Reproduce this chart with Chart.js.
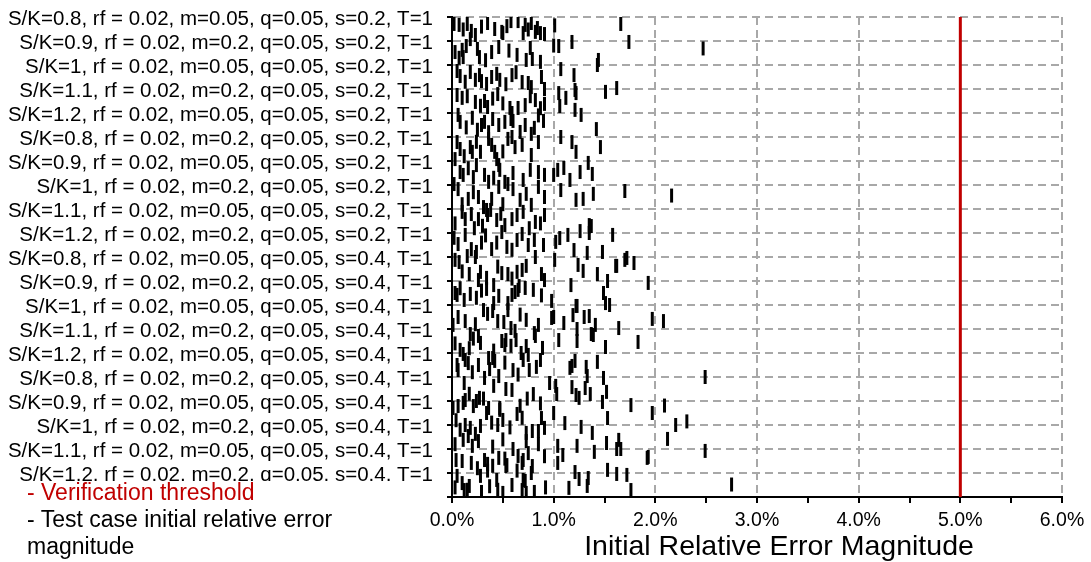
<!DOCTYPE html>
<html lang="en">
<head>
<meta charset="UTF-8">
<title>Initial Relative Error Magnitude</title>
<script src="https://cdn.jsdelivr.net/npm/chart.js"></script>
<style>
  body { margin: 0; background: #fff; font-family: "Liberation Sans", Arial, sans-serif; }
  #wrap { position: relative; width: 1091px; height: 562px; }
  #legendBox { position: absolute; left: 0; top: 481px; width: 436px; height: 29px; background: #fff; }
  #legend { position: absolute; left: 27px; top: 479px; font-size: 23px; line-height: 27px; color: #000; }
  #legend .red { color: #c00000; }
  #xTitle { position: absolute; left: 479px; top: 529px; width: 600px; text-align: center;
            font-size: 28.5px; line-height: 32px; color: #000; white-space: nowrap; }
</style>
</head>
<body>
<div id="wrap">
  <canvas id="chart" width="1091" height="562"></canvas>
  <div id="legendBox"></div>
  <div id="legend">
    <div class="red">- Verification threshold</div>
    <div>- Test case initial relative error<br>magnitude</div>
  </div>
  <div id="xTitle">Initial Relative Error Magnitude</div>
</div>
<script>
  // test case labels, top to bottom
  const caseLabels = [
    'S/K=0.8, rf = 0.02, m=0.05, q=0.05, s=0.2, T=1',
    'S/K=0.9, rf = 0.02, m=0.2, q=0.05, s=0.2, T=1',
    'S/K=1, rf = 0.02, m=0.05, q=0.05, s=0.2, T=1',
    'S/K=1.1, rf = 0.02, m=0.2, q=0.05, s=0.2, T=1',
    'S/K=1.2, rf = 0.02, m=0.05, q=0.05, s=0.2, T=1',
    'S/K=0.8, rf = 0.02, m=0.2, q=0.05, s=0.2, T=1',
    'S/K=0.9, rf = 0.02, m=0.05, q=0.05, s=0.2, T=1',
    'S/K=1, rf = 0.02, m=0.2, q=0.05, s=0.2, T=1',
    'S/K=1.1, rf = 0.02, m=0.05, q=0.05, s=0.2, T=1',
    'S/K=1.2, rf = 0.02, m=0.2, q=0.05, s=0.2, T=1',
    'S/K=0.8, rf = 0.02, m=0.05, q=0.05, s=0.4, T=1',
    'S/K=0.9, rf = 0.02, m=0.2, q=0.05, s=0.4, T=1',
    'S/K=1, rf = 0.02, m=0.05, q=0.05, s=0.4, T=1',
    'S/K=1.1, rf = 0.02, m=0.2, q=0.05, s=0.4, T=1',
    'S/K=1.2, rf = 0.02, m=0.05, q=0.05, s=0.4, T=1',
    'S/K=0.8, rf = 0.02, m=0.2, q=0.05, s=0.4, T=1',
    'S/K=0.9, rf = 0.02, m=0.05, q=0.05, s=0.4, T=1',
    'S/K=1, rf = 0.02, m=0.2, q=0.05, s=0.4, T=1',
    'S/K=1.1, rf = 0.02, m=0.05, q=0.05, s=0.4, T=1',
    'S/K=1.2, rf = 0.02, m=0.2, q=0.05, s=0.4, T=1'
  ];

  const thresholdPct = 5; // verification threshold, %

  // initial relative error (%) of each sample
  const errorPct = [
    0.02,0.07,0.11,0.15,0.23,0.35,0.49,0.50,0.58,0.65,0.70,0.72,0.75,0.78,0.82,0.84,0.87,0.91,
    0.03,0.10,0.11,0.14,0.18,0.25,0.27,0.39,0.46,0.64,0.73,0.77,0.79,0.87,
    0.05,0.08,0.18,0.23,0.27,0.29,0.34,0.39,0.44,0.47,0.59,0.69,0.75,0.78,0.88,0.91,
    0.05,0.10,0.23,0.32,0.35,0.45,0.57,0.59,0.65,0.72,0.82,0.91,
    0.06,0.08,0.29,0.32,0.40,0.46,0.52,0.58,0.60,0.67,0.78,0.81,0.90,
    0.05,0.08,0.18,0.20,0.28,0.36,0.39,0.42,0.44,0.55,0.59,0.62,0.69,0.78,0.85,
    0.03,0.08,0.11,0.21,0.24,0.32,0.36,0.46,0.47,0.52,0.70,0.77,0.85,0.91,
    0.02,0.06,0.16,0.26,0.31,0.34,0.39,0.46,0.55,0.60,0.67,0.73,0.78,0.85,0.91,
    0.10,0.13,0.19,0.26,0.35,0.38,0.44,0.52,0.59,0.64,0.70,0.82,0.91,
    0.06,0.13,0.19,0.24,0.39,0.49,0.54,0.64,0.69,0.81,0.90,
    0.03,0.07,0.15,0.17,0.23,0.26,0.28,0.34,0.41,0.49,0.55,0.64,0.69,0.73,0.82,0.88,0.91,
    0.03,0.05,0.12,0.18,0.34,0.41,0.46,0.55,0.59,0.62,0.65,0.66,0.72,0.80,0.98,
    0.01,0.13,0.18,0.31,0.35,0.40,0.45,0.51,0.55,0.58,0.62,0.73,0.81,0.85,0.98,
    0.08,0.11,0.26,0.28,0.36,0.49,0.52,0.53,0.63,0.73,0.75,0.82,0.89,
    0.05,0.06,0.13,0.16,0.12,0.32,0.37,0.40,0.42,0.46,0.60,0.70,0.76,0.83,0.87,
    0.01,0.06,0.11,0.13,0.21,0.24,0.27,0.36,0.41,0.47,0.53,0.59,0.80,0.96,
    0.13,0.18,0.23,0.28,0.34,0.45,0.47,0.50,0.64,0.73,0.79,0.85,0.88,0.91,
    0.11,0.16,0.20,0.26,0.32,0.35,0.46,0.54,0.65,0.70,0.73,0.75,0.79,
    0.04,0.05,0.19,0.28,0.44,0.53,0.69,0.72,0.78,
    0.10,0.12,0.17,0.29,0.50,0.69,0.73,0.81,0.70,
    // more of the dense cluster below 1%
    0.19,0.29,0.42,0.54,
    0.07,0.33,0.56,
    0.13,0.53,0.63,
    0.15,0.28,0.40,0.50,0.77,0.87,
    0.14,0.20,0.25,0.36,0.72,0.85,
    0.12,0.24,0.50,
    0.16,0.41,0.60,
    0.10,0.21,0.50,
    0.03,0.22,0.30,0.48,0.76,0.87,
    0.02,0.29,0.33,0.44,0.59,0.75,
    0.10,0.45,0.59,
    0.08,0.24,0.29,0.88,
    0.06,0.23,0.67,
    0.03,0.17,0.21,0.41,0.58,0.68,
    0.20,0.26,0.52,0.65,
    0.17,0.31,0.67,0.74,0.87,
    0.04,0.08,0.39,0.57,0.69,
    0.03,0.40,0.50,0.60,0.85,0.91,
    0.10,0.25,0.35,0.40,0.52,0.64,
    0.03,0.15,0.37,0.45,0.59,0.92,
    // 1% - 2%, upper half
    1.01,1.66,1.00,1.05,1.18,1.74,1.07,1.20,1.44,1.43,1.05,1.12,1.21,1.22,1.51,1.62,
    1.06,1.21,1.27,1.42,1.07,1.18,1.22,1.46,1.04,1.00,1.10,1.16,1.26,1.34,1.38,
    1.07,1.22,1.29,1.39,1.70,1.35,1.37,1.35,1.26,1.14,1.06,1.02,1.58,1.20,1.33,1.48,
    // 1% - 2%, lower half
    1.01,1.70,1.72,1.79,1.61,1.62,1.24,1.29,1.43,1.53,1.17,1.93,1.49,1.51,1.55,
    1.23,1.22,1.19,1.30,1.35,1.00,1.10,1.41,1.37,1.39,1.64,1.97,1.23,1.23,1.05,
    1.51,1.83,1.43,1.21,1.18,1.16,1.32,1.33,1.49,1.02,1.03,1.18,1.22,1.25,1.31,
    1.36,1.52,1.48,1.76,1.00,1.53,1.97,1.11,1.27,1.38,1.52,1.04,1.09,1.23,1.40,
    1.62,1.64,1.66,1.92,1.93,1.04,1.21,1.25,1.53,1.62,1.72,1.34,1.15,1.33,1.76,
    // above 2%
    2.47,2.16,2.08,2.49,2.09,2.20,2.31,2.12,2.49,2.75
  ];

  // vertical position of each sample (0 = bottom axis, 20 = top)
  const errorPos = [
    19.71,19.67,19.48,19.71,19.25,19.75,19.38,19.33,19.83,19.83,19.33,19.67,19.48,19.75,19.38,19.54,19.33,19.29,
    18.54,18.63,18.33,18.79,19.08,18.67,18.33,18.54,18.75,18.42,18.21,18.71,18.25,18.13,
    17.75,17.54,17.71,17.38,17.58,17.33,17.21,17.5,17.63,17.38,17.58,17.29,17.25,17.08,17.5,17.0,
    16.75,16.63,16.46,16.5,16.25,16.79,16.21,16.0,16.21,16.33,16.54,16.38,
    15.92,15.63,15.5,15.63,15.75,15.5,15.63,15.75,15.67,15.21,15.13,15.38,15.67,
    14.79,14.5,14.58,14.38,14.38,14.92,14.67,14.38,14.08,14.92,15.0,14.58,14.67,14.25,14.79,
    14.08,13.54,13.42,13.33,13.83,13.42,13.13,13.83,13.63,13.13,13.21,13.63,13.54,13.42,
    13.04,12.83,12.42,12.5,12.08,11.96,12.42,12.92,13.04,12.83,12.38,12.63,12.17,12.92,12.5,
    11.88,11.58,11.79,11.58,11.75,11.96,11.54,11.33,11.58,11.75,11.88,11.46,11.75,
    10.54,10.92,10.33,10.21,10.33,11.04,10.42,10.71,10.96,10.71,10.5,
    9.88,9.79,10.04,9.29,10.0,9.04,9.38,9.13,8.83,9.33,9.29,9.38,9.46,9.63,10.0,9.29,9.04,
    8.5,8.42,8.21,8.46,8.67,8.08,8.38,8.08,8.42,8.54,8.63,8.79,8.71,8.63,8.17,
    7.17,7.33,6.79,7.79,7.63,7.75,7.33,7.29,7.79,7.04,6.92,7.38,6.83,7.17,7.46,
    6.13,5.96,6.71,6.42,5.79,6.5,6.33,6.54,6.54,6.29,5.92,6.71,6.21,
    5.5,5.29,5.71,5.58,4.75,4.96,5.33,5.79,5.67,5.04,5.29,5.71,5.29,5.42,5.71,
    3.71,3.79,3.92,4.04,3.79,4.0,4.13,3.71,4.63,3.71,4.5,4.46,4.29,4.75,
    3.0,2.88,2.63,2.96,3.5,3.0,3.63,3.21,3.46,2.67,2.75,2.75,3.29,2.88,
    2.38,2.54,2.13,2.33,1.54,1.38,1.63,1.33,1.71,1.54,2.33,1.83,1.29,
    1.54,0.88,1.42,0.88,0.71,1.29,1.42,0.67,1.0,
    0.58,0.29,0.46,0.21,0.17,0.29,0.17,0.21,0.71,
    19.42,19.6,19.5,19.62,
    18.3,18.2,18.6,
    17.3,17.2,17.7,
    16.7,16.3,16.6,16.4,16.7,16.2,
    15.4,15.8,15.3,15.2,15.5,15.9,
    14.2,14.8,14.4,
    13.7,13.3,13.5,
    12.2,12.7,12.2,
    11.4,11.2,11.3,11.8,11.2,11.4,
    10.8,10.6,10.9,10.6,10.3,10.5,
    9.4,9.6,9.1,
    8.7,8.3,8.6,8.4,
    7.5,7.2,7.6,
    6.4,6.2,6.6,6.1,6.3,6.0,
    5.2,5.5,5.6,5.1,
    4.3,4.1,3.8,4.1,3.9,
    3.2,2.8,3.1,2.9,3.3,
    2.2,2.1,2.4,2.0,2.2,1.7,
    1.5,1.2,1.1,1.3,1.6,1.1,
    0.4,0.3,0.45,0.3,0.5,0.4,
    19.65,19.71,18.81,18.79,18.96,18.96,17.83,17.58,18.21,18.0,16.83,16.63,16.96,16.83,16.88,17.04,
    16.29,16.13,15.92,15.33,15.0,14.79,14.38,14.58,13.63,13.42,13.71,13.21,13.54,13.92,13.46,
    12.79,12.38,12.42,12.63,12.75,11.33,11.29,11.0,11.08,10.92,10.79,10.63,10.92,10.29,10.17,10.21,
    9.88,9.88,9.96,9.75,9.63,9.63,9.67,9.42,9.29,9.0,8.83,8.92,8.5,8.08,8.0,
    7.96,7.96,7.58,7.5,7.54,7.5,7.25,7.17,6.79,6.75,7.04,7.42,7.0,6.5,6.54,
    6.25,6.46,5.63,5.67,5.46,5.38,5.42,5.04,4.96,4.63,4.29,4.58,4.25,4.13,4.54,
    4.29,4.38,3.96,3.83,3.5,3.29,3.5,3.08,2.92,2.67,2.25,2.13,1.75,2.13,1.88,
    2.0,2.38,2.0,1.63,1.67,1.42,1.04,0.75,1.13,0.96,0.92,0.79,0.38,0.46,0.29,
    18.69,12.56,7.33,5.0,3.81,3.0,3.15,2.42,1.92,0.52
  ];

  const samples = errorPct.map((x, i) => ({ x: x, y: errorPos[i] }));
  const nCases = caseLabels.length;
  const fontFamily = '"Liberation Sans", Arial, sans-serif';

  new Chart(document.getElementById('chart'), {
    type: 'scatter',
    data: {
      datasets: [
        {
          label: 'Test case initial relative error magnitude',
          data: samples,
          pointStyle: 'line',
          pointRotation: 90,
          pointRadius: 7,
          pointHoverRadius: 7,
          pointBorderWidth: 3,
          pointBorderColor: '#000',
          pointBackgroundColor: '#000',
          clip: 0
        },
        {
          label: 'Verification threshold',
          data: [{ x: thresholdPct, y: 0 }, { x: thresholdPct, y: nCases }],
          showLine: true,
          borderColor: '#c00000',
          borderWidth: 3,
          pointRadius: 0
        }
      ]
    },
    options: {
      responsive: false,
      animation: false,
      layout: { padding: { top: 17, right: 29, left: 0, bottom: 0 } },
      plugins: { legend: { display: false }, tooltip: { enabled: false } },
      scales: {
        x: {
          type: 'linear',
          min: 0,
          max: 6,
          ticks: {
            stepSize: 0.5,
            autoSkip: false,
            maxRotation: 0,
            padding: 6,
            color: '#000',
            font: { family: fontFamily, size: 19.5 },
            callback: v => (v % 1 === 0 ? v.toFixed(1) + '%' : '')
          },
          grid: {
            color: c => (c.tick && c.tick.value % 1 === 0 ? '#a8a8a8' : 'rgba(0,0,0,0)'),
            lineWidth: 2,
            tickColor: '#000',
            tickLength: 6,
            tickWidth: 2
          },
          border: { color: '#000', width: 2, dash: [8, 5] },
          afterFit: s => { s.height = 65; }
        },
        y: {
          type: 'linear',
          min: 0,
          max: nCases,
          ticks: {
            stepSize: 1,
            autoSkip: false,
            padding: 14,
            labelOffset: 2,
            color: '#000',
            font: { family: fontFamily, size: 20.5 },
            callback: v => (v > 0 ? caseLabels[nCases - v] : '')
          },
          grid: {
            color: '#a8a8a8',
            lineWidth: 2,
            tickColor: '#000',
            tickLength: 5,
            tickWidth: 2
          },
          border: { color: '#000', width: 2, dash: [8, 5] },
          afterFit: s => {
            s.width = 452;
            s.paddingTop = 0;
            s.paddingBottom = 0;
          }
        }
      }
    }
  });
</script>
</body>
</html>
